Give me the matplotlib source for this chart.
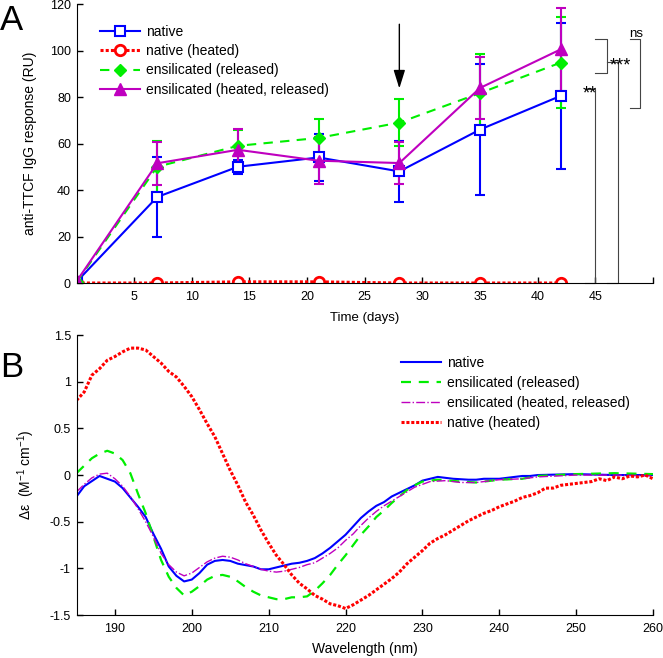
import numpy as np
import matplotlib
matplotlib.use("Agg")
import matplotlib.pyplot as plt
from matplotlib.lines import Line2D

plt.rcParams['font.family'] = ['Liberation Sans', 'DejaVu Sans']
plt.rcParams['mathtext.fontset'] = 'custom'
plt.rcParams['mathtext.rm'] = 'Liberation Sans'
plt.rcParams['mathtext.it'] = 'Liberation Sans:italic'

# ---- Panel A: antibody response over time ----
days = [0, 7, 14, 21, 28, 35, 42]
native = [0.5, 37, 50, 54, 48, 66, 80.5]
native_err = [0, 17, 3, 10, 13, 28, 31.5]
native_heated = [0, 0, 0.5, 0.5, 0, 0, 0]
ens_released = [0.3, 50, 59, 62.4, 69, 81.7, 94.8]
ens_released_err = [0, 11, 7, 8, 10, 17, 19.5]
ens_heated = [0.7, 51.5, 57.3, 52.6, 51.6, 83.9, 100.5]
ens_heated_err = [0, 9.3, 9, 10, 9, 13.5, 18]

labels_a = ['native', 'native (heated)', 'ensilicated (released)',
            'ensilicated (heated, released)']

# ---- Panel B: CD spectra ----
wl_native = [185, 186, 188, 190, 191, 193, 194, 195, 196, 197, 198, 199, 200, 201, 202, 203, 204,
             205, 206, 208, 209, 210, 211, 212, 213, 214, 215, 216, 217, 218, 219, 220, 221,
             222, 223, 224, 225, 226, 227, 228, 229, 230, 231, 232, 233, 234, 236, 237, 238,
             240, 242, 243, 244, 245, 250, 255, 260]
cd_native = [-0.23, -0.12, -0.01, -0.07, -0.14, -0.34, -0.45, -0.63, -0.79, -0.98, -1.08, -1.14,
             -1.12, -1.05, -0.96, -0.92, -0.91, -0.92, -0.95, -0.98, -1.01, -1.01, -0.99, -0.97,
             -0.95, -0.94, -0.92, -0.89, -0.84, -0.78, -0.71, -0.64, -0.55, -0.46, -0.39, -0.33,
             -0.29, -0.23, -0.19, -0.15, -0.11, -0.06, -0.04, -0.02, -0.03, -0.04, -0.05, -0.05,
             -0.04, -0.04, -0.02, -0.01, -0.01, 0.0, 0.01, 0.0, 0.0]

wl_ens = [185, 186, 187, 188, 189, 190, 191, 192, 193, 194, 195, 196, 197, 198, 199, 200, 201,
          202, 203, 204, 205, 206, 207, 208, 209, 210, 211, 212, 213, 214, 215, 216, 217, 218,
          219, 220, 221, 222, 223, 224, 225, 226, 227, 228, 229, 230, 232, 235, 237, 240, 243,
          245, 250, 255, 260]
cd_ens = [0.02, 0.1, 0.18, 0.23, 0.26, 0.23, 0.16, 0.02, -0.2, -0.41, -0.66, -0.91, -1.09,
          -1.21, -1.29, -1.25, -1.19, -1.12, -1.08, -1.07, -1.09, -1.14, -1.2, -1.25, -1.29,
          -1.31, -1.33, -1.33, -1.31, -1.31, -1.3, -1.24, -1.16, -1.07, -0.96, -0.86, -0.75,
          -0.64, -0.55, -0.45, -0.38, -0.3, -0.23, -0.16, -0.11, -0.07, -0.05, -0.07, -0.08,
          -0.05, -0.04, -0.01, 0.01, 0.02, 0.01]

wl_ens_h = [185, 186, 187, 188, 189, 190, 191, 192, 193, 194, 195, 196, 197, 198, 199, 200, 201,
            202, 203, 204, 205, 206, 207, 208, 209, 210, 211, 212, 213, 214, 215, 216, 217, 218,
            219, 220, 221, 222, 223, 224, 225, 226, 227, 228, 229, 230, 231, 233, 235, 237, 240,
            243, 245, 250, 255, 260]
cd_ens_h = [-0.18, -0.1, -0.03, 0.01, 0.02, -0.04, -0.12, -0.23, -0.36, -0.5, -0.66, -0.84,
            -0.96, -1.04, -1.08, -1.05, -0.99, -0.93, -0.89, -0.87, -0.88, -0.91, -0.95, -0.98,
            -1.01, -1.03, -1.04, -1.03, -1.01, -0.99, -0.96, -0.94, -0.89, -0.84, -0.78, -0.7,
            -0.63, -0.54, -0.46, -0.39, -0.33, -0.28, -0.23, -0.18, -0.13, -0.1, -0.07, -0.06,
            -0.08, -0.08, -0.05, -0.04, -0.02, 0.0, 0.0, -0.01]

wl_heated = list(range(185, 261))
cd_heated = [0.8, 0.89, 1.07, 1.14, 1.23, 1.27, 1.32, 1.36, 1.36, 1.34, 1.27, 1.2, 1.11, 1.05,
             0.95, 0.84, 0.7, 0.55, 0.41, 0.23, 0.05, -0.11, -0.29, -0.43, -0.59, -0.73, -0.86,
             -0.96, -1.07, -1.16, -1.22, -1.29, -1.33, -1.38, -1.4, -1.43, -1.39, -1.34, -1.29,
             -1.23, -1.17, -1.11, -1.04, -0.95, -0.88, -0.81, -0.73, -0.68, -0.64, -0.59, -0.54,
             -0.49, -0.45, -0.41, -0.38, -0.34, -0.31, -0.28, -0.24, -0.22, -0.19, -0.14, -0.14,
             -0.11, -0.1, -0.09, -0.08, -0.07, -0.04, -0.06, -0.02, -0.04, -0.01, -0.02, 0.0,
             -0.04]

labels_b = ['native', 'ensilicated (released)', 'ensilicated (heated, released)',
            'native (heated)']

BLUE, RED, GREEN, MAG = '#0000ff', '#ff0000', '#00ee00', '#bf00bf'
DASH = (0, (4.5, 3.5))

fig = plt.figure(figsize=(6.63, 6.58), dpi=100)
ax1 = fig.add_axes([0.1154, 0.5699, 0.8695, 0.424])
ax2 = fig.add_axes([0.1154, 0.0653, 0.8695, 0.4255])

# panel A
eb = dict(capsize=3.6, elinewidth=1.5, capthick=1.5)
sty = [dict(color=BLUE, lw=1.5, ls='-', marker='s', ms=6.5, mfc='white', mec=BLUE, mew=1.5),
       dict(color=RED, lw=2.2, ls=(0, (1, 0.7)), marker='o', ms=7.5, mfc='white', mec=RED, mew=2),
       dict(color=GREEN, lw=1.5, ls=DASH, marker='D', ms=6),
       dict(color=MAG, lw=1.5, ls='-', marker='^', ms=9)]

ax1.errorbar(days, native, yerr=native_err, **sty[0], **eb)
ax1.plot(days, native_heated, **sty[1])
ax1.errorbar(days, ens_released, yerr=ens_released_err, **sty[2], **eb)
ax1.errorbar(days, ens_heated, yerr=ens_heated_err, **sty[3], **eb)

ax1.set_xlim(0, 50)
ax1.set_ylim(0, 120)
ax1.set_xticks(range(5, 51, 5))
ax1.set_xticklabels([str(t) for t in range(5, 46, 5)] + [''])
ax1.set_yticks(range(0, 121, 20))
ax1.set_xlabel('Time (days)', fontsize=9.5, labelpad=6)
ax1.set_ylabel('anti-TTCF IgG response (RU)', fontsize=10)
ax1.yaxis.set_label_coords(-0.0685, 0.5)

ax1.annotate('', xy=(28, 82.5), xytext=(28, 112.5),
             arrowprops=dict(arrowstyle='-|>,head_length=0.8,head_width=0.25', color='k',
                             lw=1, mutation_scale=14))

# significance brackets
gray = '#444444'
brk = dict(color=gray, lw=0.8, clip_on=False)
ax1.plot([44.1, 45, 45, 44.1], [0, 0, 83.3, 83.3], **brk)
ax1.plot([46, 47, 47, 46], [0, 0, 95.2, 95.2], **brk)
ax1.plot([45, 46, 46, 45], [105, 105, 90.2, 90.2], **brk)
ax1.plot([48, 48.9, 48.9, 48], [105, 105, 75.1, 75.1], **brk)
ax1.text(44.5, 79.5, '**', ha='center', va='baseline', fontsize=13)
ax1.text(47.15, 91.5, '***', ha='center', va='baseline', fontsize=13)
ax1.text(48.5, 106, 'ns', ha='center', va='baseline', fontsize=9.5)

handles_a = [Line2D([], [], **s) for s in sty]
ax1.legend(handles_a, labels_a, loc='upper left', bbox_to_anchor=(0.041, 0.925),
           frameon=False, fontsize=10, handlelength=2.9, handletextpad=0.4,
           labelspacing=0.38, borderpad=0, borderaxespad=0)

# panel B
ax2.plot(wl_native, cd_native, color=BLUE, lw=1.5, label=labels_b[0])
ax2.plot(wl_ens, cd_ens, color=GREEN, lw=1.6, ls=DASH, label=labels_b[1])
ax2.plot(wl_ens_h, cd_ens_h, color=MAG, lw=1.0, ls='-.', label=labels_b[2])
ax2.plot(wl_heated, cd_heated, color=RED, lw=2.2, ls=(0, (1, 0.6)), label=labels_b[3])

ax2.set_xlim(185, 260)
ax2.set_ylim(-1.5, 1.5)
ax2.set_xticks(range(190, 261, 10))
ax2.set_yticks([-1.5, -1, -0.5, 0, 0.5, 1, 1.5])
ax2.set_yticklabels(['-1.5', '-1', '-0.5', '0', '0.5', '1', '1.5'])
ax2.set_xlabel('Wavelength (nm)', fontsize=10, labelpad=5)
ax2.set_ylabel('\u0394\u03b5  (M$^{-1}$ cm$^{-1}$)', fontsize=10)
ax2.yaxis.set_label_coords(-0.0685, 0.5)
ax2.legend(loc='upper left', bbox_to_anchor=(0.5626, 0.925), frameon=False, fontsize=10,
           handlelength=2.9, handletextpad=0.4, labelspacing=0.42, borderpad=0,
           borderaxespad=0)

for ax in (ax1, ax2):
    ax.spines['top'].set_visible(False)
    ax.spines['right'].set_visible(False)
    ax.tick_params(direction='in', length=4, width=1, labelsize=9, pad=4)
    ax.tick_params(axis='x', pad=6)

fig.text(0.0, 0.954, 'A', fontsize=25, va='baseline')
fig.text(0.0, 0.4275, 'B', fontsize=25, va='baseline')

fig.savefig('out.png', dpi=100)
